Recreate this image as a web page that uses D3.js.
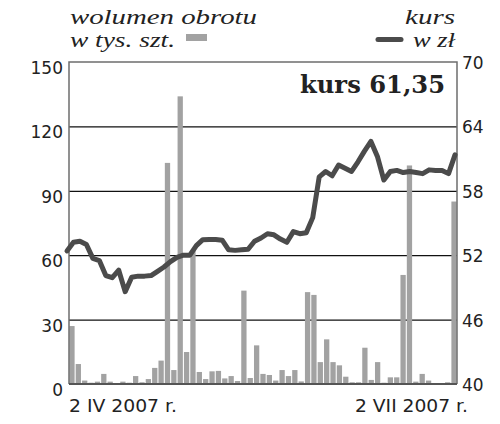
<!DOCTYPE html>
<html><head><meta charset="utf-8">
<script src="https://cdn.jsdelivr.net/npm/d3@7"></script>
<style>html,body{margin:0;padding:0;background:#fff;}svg{display:block;}</style>
</head><body><svg id="c" width="500" height="424"></svg>
<script>
const volume = [27,9.3,1.6,0.6,1.1,4.7,1.1,0.2,1.1,0.6,3.7,0.8,2.3,7.5,10.9,
103,6.5,134,14.9,62,5.6,2.3,5.9,6.1,2.6,3.7,1.4,43.5,2.8,18,
4.7,4.2,1.6,6.5,3.7,6.5,1.2,42.8,41.5,10.2,20.8,10.2,8.7,3.4,0.8,
0.8,16.9,1.9,10.2,0.6,3.1,3.1,50.8,101.8,1.1,4.7,1.6,0.2,0.2,0.8,85];
const price = [52.4,53.2,53.3,53.0,51.7,51.5,50.1,49.9,50.6,48.6,49.95,50.05,50.05,50.1,50.5,
50.9,51.4,51.8,52.0,52.0,52.9,53.45,53.47,53.47,53.4,52.5,52.45,52.5,52.55,53.3,
53.6,54.0,53.9,53.5,53.2,54.2,54.0,54.1,55.5,59.3,59.8,59.4,60.4,60.1,59.8,
60.7,61.7,62.6,61.2,59.0,59.8,59.9,59.7,59.8,59.7,59.6,59.95,59.9,59.9,59.6,61.35];
const leftTicks = [0,30,60,90,120,150];
const rightTicks = [40,46,52,58,64,70];
const dateLabels = ["2 IV 2007 r.","2 VII 2007 r."];
const titleLeft = ["wolumen obrotu","w tys. szt."];
const titleRight = ["kurs","w zł"];
const lastLabel = "kurs 61,35";

const svg = d3.select("#c");
const L = 69, R = 457, T = 62, B = 384;
const idx = d3.range(volume.length);
const x = d3.scaleBand().domain(idx).range([L, R]).paddingInner(0.17).paddingOuter(0.05);
const xp = d3.scalePoint().domain(idx).range([67, 455]);
const yL = d3.scaleLinear().domain([0,150]).range([B, T]);
const yR = d3.scaleLinear().domain([40,70]).range([B, T]);
const sans = "'DejaVu Sans', sans-serif";
const serif = "'DejaVu Serif', serif";
const iserif = "'Liberation Serif', serif";

// gridlines
svg.append("g").selectAll("line").data(leftTicks.filter(v=>v>0 && v<150)).join("line")
  .attr("x1", L).attr("x2", R).attr("y1", d=>yL(d)+0.5).attr("y2", d=>yL(d)+0.5)
  .attr("stroke", "#111").attr("stroke-width", 1.2);

// bars
svg.append("g").selectAll("rect").data(volume).join("rect")
  .attr("x", (d,i)=>x(i)).attr("width", x.bandwidth())
  .attr("y", d=>yL(d)).attr("height", d=>B - yL(d))
  .attr("fill", "#a2a2a2");

// frame
const fr = svg.append("g").attr("stroke", "#6e6e6e").attr("stroke-width", 1.5).attr("fill","none");
fr.append("path").attr("d", `M${L},${B}V${T}H${R}V${B}`);
fr.append("line").attr("x1", L).attr("x2", R).attr("y1", B).attr("y2", B).attr("stroke","#555").attr("stroke-width",2);

// line
svg.append("path").datum(price)
  .attr("d", d3.line().x((d,i)=>xp(i)).y(d=>yR(d)))
  .attr("fill","none").attr("stroke","#4b4b4b").attr("stroke-width",5)
  .attr("stroke-linejoin","round").attr("stroke-linecap","round");

// left axis
const la = svg.append("g").attr("transform", `translate(${L-6},6)`)
  .call(d3.axisLeft(yL).tickValues(leftTicks).tickSize(0).tickPadding(0));
la.select(".domain").remove();
la.selectAll("text").attr("font-family", sans).attr("font-size", 17).attr("fill","#222");

// right axis
const ra = svg.append("g").attr("transform", `translate(${R+5},1)`)
  .call(d3.axisRight(yR).tickValues(rightTicks).tickSize(0).tickPadding(0));
ra.select(".domain").remove();
ra.selectAll("text").attr("font-family", sans).attr("font-size", 17).attr("fill","#222");

// date labels
svg.append("text").attr("x", 69).attr("y", 412).text(dateLabels[0])
  .attr("font-family", sans).attr("font-size", 17).attr("fill","#222")
  .attr("textLength", 108).attr("lengthAdjust","spacingAndGlyphs");
svg.append("text").attr("x", 355).attr("y", 412).text(dateLabels[1])
  .attr("font-family", sans).attr("font-size", 17).attr("fill","#222")
  .attr("textLength", 113).attr("lengthAdjust","spacingAndGlyphs");

// titles
const tt = svg.append("g").attr("font-family", iserif).attr("font-style","italic").attr("font-size", 20).attr("fill","#222");
tt.append("text").attr("x", 70).attr("y", 24).text(titleLeft[0]).attr("textLength",187).attr("lengthAdjust","spacingAndGlyphs");
tt.append("text").attr("x", 70).attr("y", 47).text(titleLeft[1]).attr("textLength",105).attr("lengthAdjust","spacingAndGlyphs");
tt.append("text").attr("x", 405).attr("y", 24).text(titleRight[0]).attr("textLength",50).attr("lengthAdjust","spacingAndGlyphs");
tt.append("text").attr("x", 413).attr("y", 47).text(titleRight[1]).attr("textLength",42).attr("lengthAdjust","spacingAndGlyphs");

// legend marks
svg.append("rect").attr("x", 186).attr("y", 34).attr("width", 21).attr("height", 7).attr("fill", "#a2a2a2");
svg.append("line").attr("x1", 378).attr("x2", 401).attr("y1", 39.5).attr("y2", 39.5)
  .attr("stroke","#4b4b4b").attr("stroke-width",5).attr("stroke-linecap","round");

// last value label
svg.append("text").attr("x", 445).attr("y", 93).attr("text-anchor","end").text(lastLabel)
  .attr("font-family", serif).attr("font-weight","bold").attr("font-size", 24).attr("fill","#222")
  .attr("textLength", 145).attr("lengthAdjust","spacingAndGlyphs");
</script></body></html>
